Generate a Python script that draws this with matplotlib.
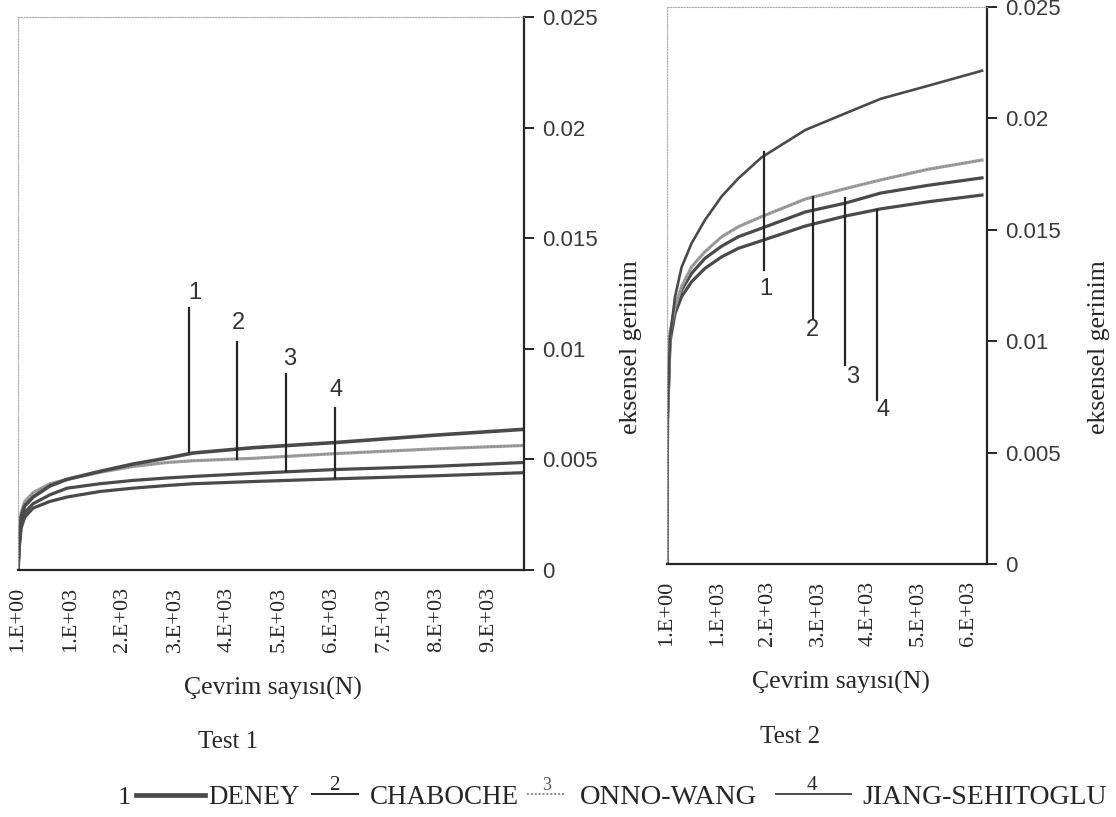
import matplotlib
matplotlib.use("Agg")
import matplotlib.pyplot as plt
from matplotlib.lines import Line2D

W, H = 1116, 817

# Test 1 (left panel): cycle count vs axial strain
t1_n = [1, 20, 60, 130, 290, 610, 940, 1570, 2200, 2850, 3350, 4500, 6050, 8000, 9675]
t1_deney = [0, 0.0012, 0.0024, 0.0029, 0.0033, 0.0038, 0.0041, 0.00446, 0.00479, 0.00506,
            0.00529, 0.00553, 0.00576, 0.0061, 0.00636]
t1_chaboche = [0, 0.0013, 0.0026, 0.0031, 0.0035, 0.0039, 0.0041, 0.00442, 0.00468, 0.00486,
               0.00494, 0.00505, 0.00526, 0.00548, 0.00563]
t1_onno = [0, 0.0010, 0.0021, 0.0026, 0.0030, 0.0034, 0.0037, 0.0039, 0.00405, 0.00416,
           0.00423, 0.00437, 0.00454, 0.00469, 0.00486]
t1_jiang = [0, 0.0009, 0.0019, 0.0024, 0.0028, 0.0031, 0.0033, 0.00355, 0.0037, 0.00382,
            0.0039, 0.0040, 0.00412, 0.00426, 0.0044]
t1_ticks = [1, 1001, 2001, 3001, 4001, 5001, 6001, 7001, 8001, 9001]
t1_ticklabels = ["1.E+00", "1.E+03", "2.E+03", "3.E+03", "4.E+03", "5.E+03",
                 "6.E+03", "7.E+03", "8.E+03", "9.E+03"]

# Test 2 (right panel)
t2_n = [1, 10, 60, 160, 290, 490, 755, 1090, 1420, 1880, 2750, 3550, 4250, 5200, 6262]
t2_deney = [0, 0.0066, 0.0102, 0.0120, 0.01332, 0.0144, 0.01544, 0.01651, 0.01731, 0.01825,
            0.01948, 0.02023, 0.02088, 0.02147, 0.02214]
t2_chaboche = [0, 0.0065, 0.0104, 0.01155, 0.01245, 0.01334, 0.01402, 0.01469, 0.01514,
               0.01559, 0.01638, 0.01685, 0.01724, 0.01772, 0.01813]
t2_onno = [0, 0.0065, 0.0102, 0.0114, 0.0123, 0.01305, 0.01372, 0.01427, 0.01469, 0.01507,
           0.0158, 0.0162, 0.01665, 0.0170, 0.01733]
t2_jiang = [0, 0.0065, 0.0100, 0.01125, 0.0120, 0.01267, 0.01327, 0.01379, 0.01417, 0.01451,
            0.01517, 0.01562, 0.01594, 0.01626, 0.01656]
t2_ticks = [1, 1001, 2001, 3001, 4001, 5001, 6001]
t2_ticklabels = ["1.E+00", "1.E+03", "2.E+03", "3.E+03", "4.E+03", "5.E+03", "6.E+03"]

y_ticks = [0, 0.005, 0.01, 0.015, 0.02, 0.025]
y_ticklabels = ["0", "0.005", "0.01", "0.015", "0.02", "0.025"]

# curve labels: (label, N, y_top, y_bottom, text N, text y)
t1_leaders = [("1", 3279, 0.01184, 0.00533, 3384, 0.01252),
              ("2", 4187, 0.01031, 0.00502, 4206, 0.01117),
              ("3", 5124, 0.00886, 0.00448, 5200, 0.00954),
              ("4", 6052, 0.00732, 0.00414, 6080, 0.00814)]
t2_leaders = [("1", 1928, 0.01849, 0.0132, 1968, 0.01234),
              ("2", 2893, 0.01647, 0.01104, 2883, 0.0105),
              ("3", 3539, 0.01643, 0.00893, 3698, 0.00839),
              ("4", 4185, 0.01589, 0.00736, 4294, 0.00691)]

names = ["DENEY", "CHABOCHE", "ONNO-WANG", "JIANG-SEHITOGLU"]

INK = "#262626"
DARK = "#4a4a4a"
GREY = "#a0a0a0"
SERIF = "Liberation Serif"
SANS = "Liberation Sans"


def px_rect(x0, y_top, x1, y_bot):
    return [x0 / W, 1 - y_bot / H, (x1 - x0) / W, (y_bot - y_top) / H]


def fx(x):
    return x / W


def fy(y):
    return 1 - y / H


def draw_panel(ax, n, deney, chab, onno, jiang, xmax, ticks, ticklabels, leaders, lw1):
    ax.plot(n, jiang, color=DARK, lw=2.3, solid_joinstyle="round")
    ax.plot(n, onno, color=DARK, lw=2.3, solid_joinstyle="round")
    ax.plot(n, chab, color=GREY, lw=2.3)
    ax.plot(n, chab, color="#7a7a7a", lw=0.8, ls=(0, (1, 2)))
    ax.plot(n, deney, color=DARK, lw=lw1)

    for lab, xn, ytop, ybot, tx, ty in leaders:
        ax.plot([xn, xn], [ybot, ytop], color=INK, lw=1.6)
        ax.text(tx, ty, lab, ha="center", va="center", fontsize=17,
                family=SANS, color="#333333")

    ax.set_xlim(0, xmax)
    ax.set_ylim(0, 0.025)
    ax.set_xticks(ticks)
    ax.set_xticklabels(ticklabels, rotation=90, fontsize=16, family=SERIF, color=INK)
    ax.tick_params(axis="x", length=0, pad=12)
    ax.yaxis.tick_right()
    ax.set_yticks(y_ticks)
    ax.set_yticklabels(y_ticklabels, fontsize=16, family=SANS, color="#3a3a3a")
    ax.tick_params(axis="y", direction="out", length=7, width=1.4, pad=6, color=INK)

    for side in ("left", "top"):
        ax.spines[side].set_linestyle((0, (1, 1.5)))
        ax.spines[side].set_color("#a8a8a8")
        ax.spines[side].set_linewidth(0.8)
    for side in ("right", "bottom"):
        ax.spines[side].set_color(INK)
        ax.spines[side].set_linewidth(1.6)


fig = plt.figure(figsize=(W / 100, H / 100), dpi=100)

ax1 = fig.add_axes(px_rect(18, 17, 524, 570))
draw_panel(ax1, t1_n, t1_deney, t1_chaboche, t1_onno, t1_jiang, 9675,
           t1_ticks, t1_ticklabels, t1_leaders, 2.6)

ax2 = fig.add_axes(px_rect(667, 7, 987, 564))
draw_panel(ax2, t2_n, t2_deney, t2_chaboche, t2_onno, t2_jiang, 6362,
           t2_ticks, t2_ticklabels, t2_leaders, 1.9)

# axis titles
for x in (631, 1099):
    fig.text(fx(x), fy(347), "eksensel gerinim", rotation=90, ha="center", va="center",
             fontsize=18.5, family=SERIF, color=INK)
fig.text(fx(273), fy(688), "Çevrim sayısı(N)", ha="center", va="center",
         fontsize=18.5, family=SERIF, color=INK)
fig.text(fx(841), fy(682), "Çevrim sayısı(N)", ha="center", va="center",
         fontsize=18.5, family=SERIF, color=INK)
fig.text(fx(228), fy(742), "Test 1", ha="center", va="center",
         fontsize=18, family=SERIF, color=INK)
fig.text(fx(790), fy(737), "Test 2", ha="center", va="center",
         fontsize=18, family=SERIF, color=INK)

# legend row at the bottom
leg_y = 798
fig.text(fx(124), fy(leg_y), "1", ha="center", va="center", fontsize=19,
         family=SERIF, color=INK)
fig.add_artist(Line2D([fx(136), fx(205)], [fy(leg_y - 3), fy(leg_y - 3)],
                      color=DARK, lw=3.4))
fig.add_artist(Line2D([fx(312), fx(358)], [fy(leg_y - 4), fy(leg_y - 4)],
                      color=INK, lw=1.4))
fig.text(fx(334), fy(leg_y - 13), "2", ha="center", va="center", fontsize=15,
         family=SERIF, color=INK)
fig.add_artist(Line2D([fx(527), fx(566)], [fy(leg_y - 4), fy(leg_y - 4)],
                      color="#8a8a8a", lw=1.4, ls=(0, (1, 1))))
fig.text(fx(547), fy(leg_y - 13), "3", ha="center", va="center", fontsize=13,
         family=SERIF, color="#555555")
fig.add_artist(Line2D([fx(776), fx(851)], [fy(leg_y - 4), fy(leg_y - 4)],
                      color=DARK, lw=1.4))
fig.text(fx(812), fy(leg_y - 13), "4", ha="center", va="center", fontsize=15,
         family=SERIF, color=INK)
for x, name, fs in zip((208, 370, 580, 862), names, (19.5, 19.5, 20.5, 20)):
    fig.text(fx(x), fy(leg_y), name, ha="left", va="center", fontsize=fs,
             family=SERIF, color=INK)

fig.savefig("out.png", dpi=100)
